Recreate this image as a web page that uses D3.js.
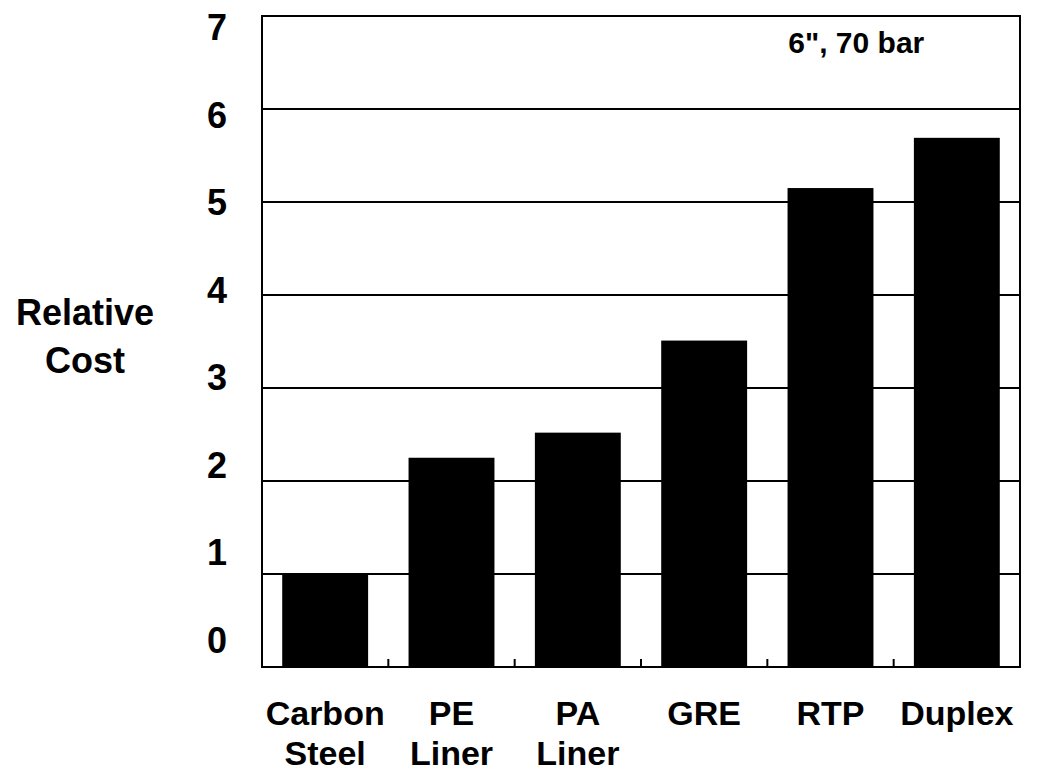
<!DOCTYPE html>
<meta charset="utf-8">
<style>
body { margin: 0; background: #fff; }
.frame { fill: none; stroke: #000; stroke-width: 2px; }
.grid line { stroke: #000; stroke-width: 2px; }
.bar { fill: #000; }
.lbl { font-family: "Liberation Sans", Arial, sans-serif; font-weight: bold; fill: #000; }
</style>
<svg width="1039" height="775"></svg>
<script src="https://d3js.org/d3.v7.min.js"></script>
<script>

// data
var categories = ["Carbon Steel", "PE Liner", "PA Liner", "GRE", "RTP", "Duplex"];
var values = [1.0, 2.25, 2.52, 3.51, 5.15, 5.69];
var yTicks = [0, 1, 2, 3, 4, 5, 6, 7];
var note = "6\", 70 bar";

var svg = d3.select("svg"),
    margin = {top: 16, right: 19, bottom: 108, left: 262},
    width = 1039 - margin.left - margin.right,
    height = 775 - margin.top - margin.bottom,
    g = svg.append("g").attr("transform", "translate(" + margin.left + "," + margin.top + ")");

var x = d3.scaleBand().domain(categories).range([0, width]).paddingInner(0.32).paddingOuter(0.16),
    y = d3.scaleLinear().domain([0, 7]).range([height, 0]);

// tick labels in the scan sit on a slightly tighter spacing than the gridlines
var yLabel = d3.scaleLinear().domain([0, 7]).range([height - 27, 11]);

// gridlines
g.append("g").attr("class", "grid")
  .selectAll("line")
  .data(yTicks.filter(function(d) { return d > 0 && d < 7; }))
  .enter().append("line")
    .attr("x1", 0).attr("x2", width)
    .attr("y1", function(d) { return y(d); })
    .attr("y2", function(d) { return y(d); });

g.selectAll(".bar")
  .data(values)
  .enter().append("rect")
    .attr("class", "bar")
    .attr("x", function(d, i) { return x(categories[i]); })
    .attr("width", x.bandwidth())
    .attr("y", function(d) { return y(d); })
    .attr("height", function(d) { return height - y(d); });

// little ticks between the bars
g.append("g").attr("class", "grid")
  .selectAll("line")
  .data(categories.slice(1))
  .enter().append("line")
    .attr("x1", function(d) { return x(d) - x.step() * x.paddingInner() / 2; })
    .attr("x2", function(d) { return x(d) - x.step() * x.paddingInner() / 2; })
    .attr("y1", height).attr("y2", height - 8);

g.append("rect").attr("class", "frame")
  .attr("width", width).attr("height", height);

// y tick labels
g.selectAll(".ylbl")
  .data(yTicks)
  .enter().append("text")
    .attr("class", "lbl")
    .attr("x", -45)
    .attr("y", function(d) { return yLabel(d); })
    .attr("dy", "0.36em")
    .attr("text-anchor", "middle")
    .style("font-size", "36px")
    .text(function(d) { return d; });

// x labels, split on the space
var xl = g.selectAll(".xlbl")
  .data(categories)
  .enter().append("text")
    .attr("class", "lbl")
    .attr("text-anchor", "middle")
    .attr("transform", function(d) { return "translate(" + (x(d) + x.bandwidth() / 2) + "," + (height + 58) + ")"; })
    .style("font-size", "34px");
xl.selectAll("tspan")
  .data(function(d) { return d.split(" "); })
  .enter().append("tspan")
    .attr("x", 0)
    .attr("dy", function(d, i) { return i ? 40 : 0; })
    .text(function(d) { return d; });

// axis title
svg.append("text")
  .attr("class", "lbl")
  .attr("text-anchor", "middle")
  .attr("transform", "translate(85,325)")
  .style("font-size", "36px")
  .selectAll("tspan")
  .data(["Relative", "Cost"])
  .enter().append("tspan")
    .attr("x", 0)
    .attr("dy", function(d, i) { return i ? 48 : 0; })
    .text(function(d) { return d; });

g.append("text")
  .attr("class", "lbl")
  .attr("text-anchor", "middle")
  .attr("x", x("RTP") + x.bandwidth() * 0.8)
  .attr("y", 37)
  .style("font-size", "30px")
  .text(note);

</script>
